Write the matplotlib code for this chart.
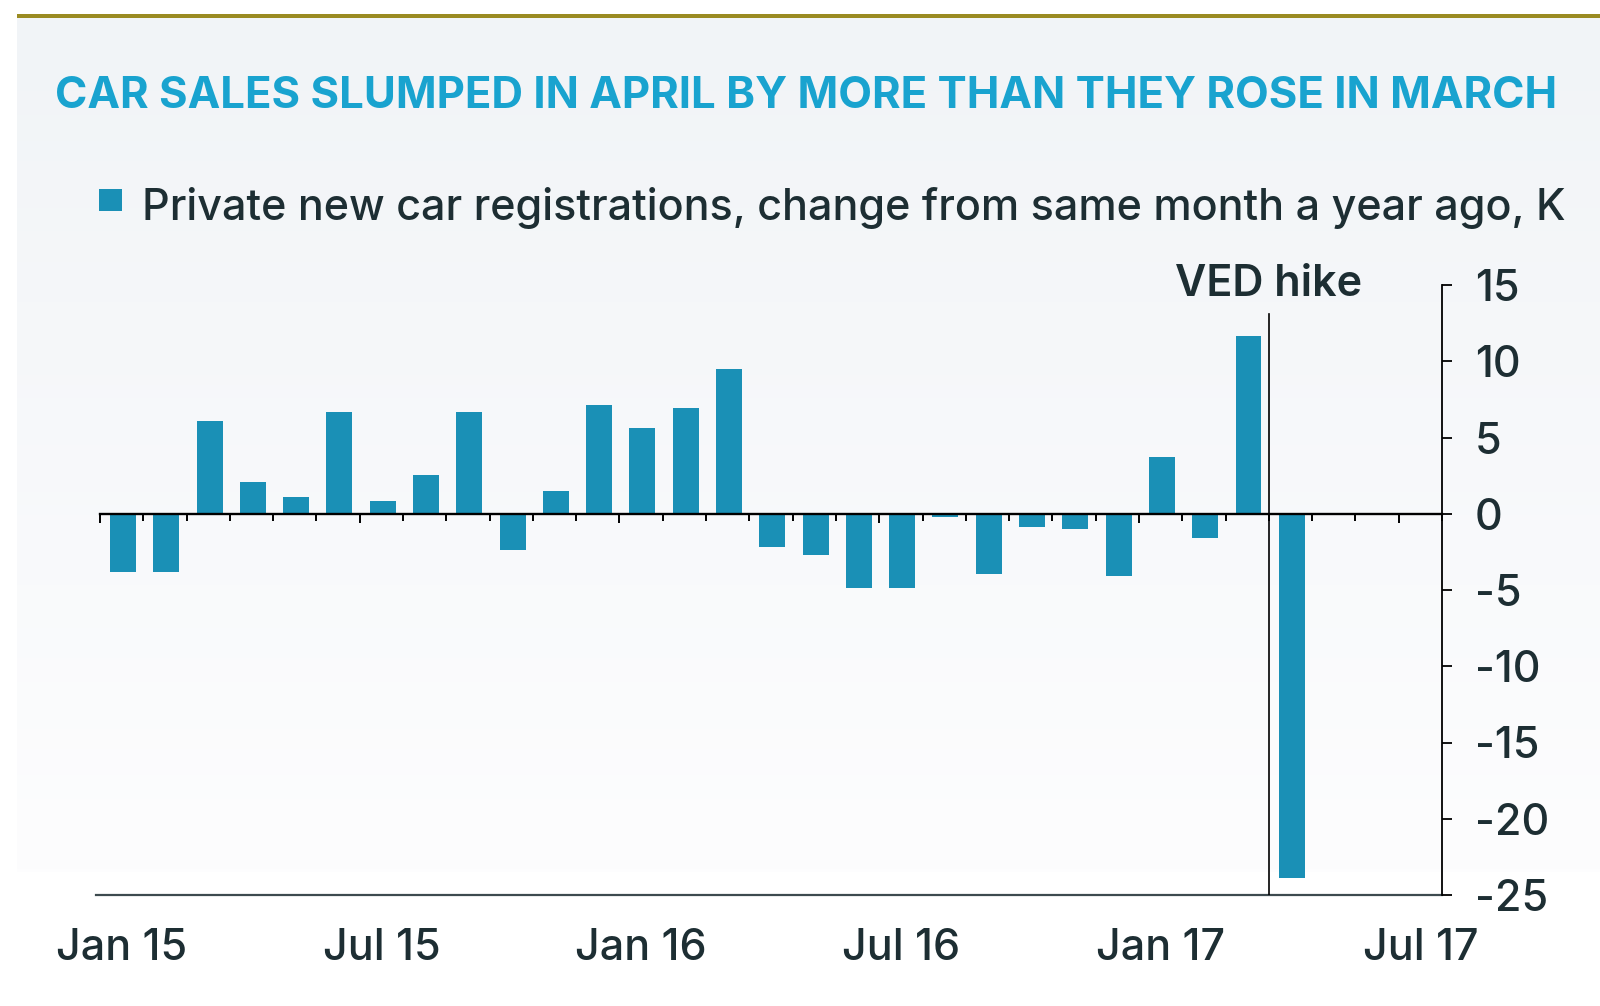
import numpy as np
import matplotlib
matplotlib.use("Agg")
import matplotlib.pyplot as plt
from matplotlib.patches import Rectangle

# ---------------- data ----------------
months = ["Jan 15", "Feb 15", "Mar 15", "Apr 15", "May 15", "Jun 15", "Jul 15", "Aug 15",
          "Sep 15", "Oct 15", "Nov 15", "Dec 15", "Jan 16", "Feb 16", "Mar 16", "Apr 16",
          "May 16", "Jun 16", "Jul 16", "Aug 16", "Sep 16", "Oct 16", "Nov 16", "Dec 16",
          "Jan 17", "Feb 17", "Mar 17", "Apr 17"]
values = [-3.8, -3.8, 6.05, 2.05, 1.1, 6.7, 0.85, 2.55, 6.7, -2.35, 1.5, 7.1, 5.65, 6.95,
          9.5, -2.2, -2.7, -4.85, -4.85, -0.2, -3.95, -0.85, -1.0, -4.05, 3.75, -1.6,
          11.65, -23.9]
x_tick_labels = ["Jan 15", "Jul 15", "Jan 16", "Jul 16", "Jan 17", "Jul 17"]
x_tick_months = [0, 6, 12, 18, 24, 30]          # month index of each labelled month
y_ticks = [15, 10, 5, 0, -5, -10, -15, -20, -25]
n_months_axis = 31                              # Jan 15 .. Jul 17
ved_month = 27                                  # VED hike: start of April 2017
ved_top = 13.1

title = "CAR SALES SLUMPED IN APRIL BY MORE THAN THEY ROSE IN MARCH"
legend_label = "Private new car registrations, change from same month a year ago, K"

# ---------------- style ----------------
BAR = "#1a90b6"
TITLE_C = "#19a3cf"
TXT = "#1d2e33"
FONT = ["Inter", "DejaVu Sans"]
plt.rcParams["font.family"] = FONT
plt.rcParams["axes.unicode_minus"] = False

W, H = 1600, 1006
fig = plt.figure(figsize=(W / 100, H / 100), dpi=100)
fig.patch.set_facecolor("white")

def fx(px):
    return px / W

def fy(py):
    return 1 - py / H

# background panel gradient
bg = fig.add_axes([fx(17), fy(872), fx(W - 17), (872 - 18) / H], zorder=-10)
top_c = np.array([0xf1, 0xf4, 0xf7]) / 255
bot_c = np.array([0xfd, 0xfd, 0xfe]) / 255
t = np.linspace(0, 1, 256)[:, None]
grad = top_c[None, :] * (1 - t) + bot_c[None, :] * t
bg.imshow(grad[:, None, :], aspect="auto", extent=[0, 1, 0, 1])
bg.set_axis_off()

# olive rule at top
fig.add_artist(Rectangle((fx(17), fy(18)), fx(W - 17), 4 / H, transform=fig.transFigure,
                         facecolor="#9a8b22", edgecolor="none"))

# title
fig.text(fx(55), fy(108), title, color=TITLE_C, fontsize=31.5, fontweight="bold",
         ha="left", va="baseline")

# legend
fig.add_artist(Rectangle((fx(99), fy(211)), fx(23), 22 / H, transform=fig.transFigure,
                         facecolor=BAR, edgecolor="none"))
fig.text(fx(142), fy(220), legend_label, color=TXT, fontsize=31, fontweight="medium",
         ha="left", va="baseline")

# ---------------- axes ----------------
x_left, x_right = 96, 1442
y_top, y_bot = 285, 895
ax = fig.add_axes([fx(x_left), fy(y_bot), fx(x_right - x_left), (y_bot - y_top) / H])
ax.set_facecolor("none")
xmin = -(100 - x_left) / ((x_right - 100) / n_months_axis)
ax.set_xlim(xmin, n_months_axis)
ax.set_ylim(-25, 15)

x = np.arange(len(values)) + 0.53
ax.bar(x, values, width=0.6, color=BAR, zorder=2)

# zero line (bottom spine moved to 0) with month-boundary ticks
for s in ["top", "left"]:
    ax.spines[s].set_visible(False)
ax.spines["bottom"].set_position(("data", 0))
ax.spines["bottom"].set_bounds(0, n_months_axis)
ax.spines["bottom"].set_linewidth(1.7)
ax.spines["bottom"].set_color("black")
ax.spines["bottom"].set_zorder(3)
ax.set_xticks(np.arange(0, n_months_axis + 1, 6))
ax.set_xticks(np.arange(0, n_months_axis + 1, 1), minor=True)
ax.tick_params(axis="x", which="major", length=6.5, width=1.4, color="black",
               direction="out", labelbottom=False)
ax.tick_params(axis="x", which="minor", length=4.8, width=1.4, color="black",
               direction="out")

# right axis
ax.spines["right"].set_linewidth(1.3)
ax.spines["right"].set_color("black")
ax.yaxis.tick_right()
ax.set_yticks(y_ticks)
ax.set_yticklabels([str(v) for v in y_ticks], fontweight="medium")
ax.tick_params(axis="y", length=7.2, width=1.3, color="black", pad=16.5,
               labelsize=31, labelcolor=TXT)

# bottom line with labels
sec = ax.secondary_xaxis("bottom")
sec.spines["bottom"].set_color("#3d4a4f")
sec.spines["bottom"].set_linewidth(1.6)
sec.set_xticks(np.array(x_tick_months) + 0.5)
sec.set_xticklabels(x_tick_labels, fontweight="medium")
sec.tick_params(axis="x", length=0, pad=24, labelsize=31, labelcolor=TXT)

# VED hike marker
ax.plot([ved_month, ved_month], [-25, ved_top], color="black", lw=1.2, zorder=3)
ax.text(ved_month, 14.3, "VED hike", ha="center", va="baseline", fontsize=31,
        color=TXT, fontweight="semibold")

fig.savefig("out.png", dpi=100, facecolor="white")
